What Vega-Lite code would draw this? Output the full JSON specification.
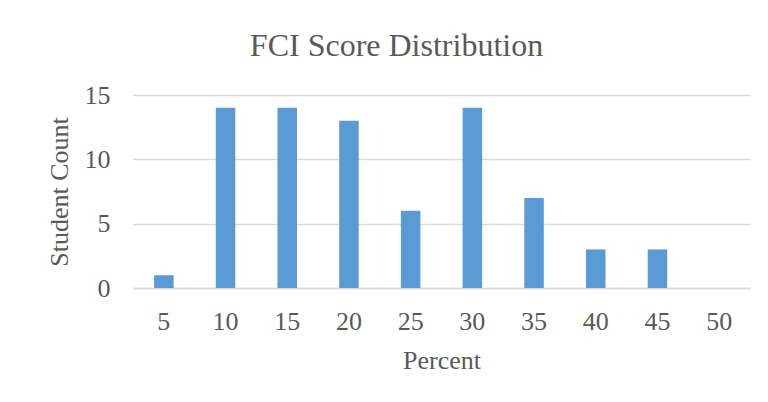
{
  "$schema": "https://vega.github.io/schema/vega-lite/v6.json",
  "autosize": "none",
  "width": 617,
  "height": 193,
  "padding": {"left": 133, "top": 95, "right": 18, "bottom": 114},
  "background": "white",
  "title": {
    "text": "FCI Score Distribution",
    "font": "Liberation Serif",
    "fontSize": 32,
    "fontWeight": "normal",
    "color": "#595959",
    "anchor": "middle",
    "frame": "group",
    "baseline": "alphabetic",
    "dx": -45,
    "offset": -6
  },
  "data": {
    "values": [
      {"percent": 5, "count": 1},
      {"percent": 10, "count": 14},
      {"percent": 15, "count": 14},
      {"percent": 20, "count": 13},
      {"percent": 25, "count": 6},
      {"percent": 30, "count": 14},
      {"percent": 35, "count": 7},
      {"percent": 40, "count": 3},
      {"percent": 45, "count": 3},
      {"percent": 50, "count": 0}
    ]
  },
  "mark": {"type": "bar", "color": "#5B9BD5"},
  "encoding": {
    "x": {
      "field": "percent",
      "type": "ordinal",
      "title": "Percent",
      "scale": {"paddingInner": 0.684, "paddingOuter": 0.342},
      "axis": {
        "labelAngle": 0,
        "ticks": false,
        "domain": true,
        "domainColor": "#D9D9D9",
        "domainWidth": 1.5,
        "labelPadding": 20,
        "titlePadding": 13
      }
    },
    "y": {
      "field": "count",
      "type": "quantitative",
      "title": "Student Count",
      "scale": {"domain": [0, 15]},
      "axis": {
        "values": [0, 5, 10, 15],
        "ticks": false,
        "domain": false,
        "grid": true,
        "gridColor": "#D9D9D9",
        "gridWidth": 1.5,
        "labelPadding": 23,
        "titlePadding": 12
      }
    }
  },
  "config": {
    "view": {"stroke": null},
    "axis": {
      "labelFont": "Liberation Serif",
      "labelFontSize": 26,
      "labelColor": "#595959",
      "titleFont": "Liberation Serif",
      "titleFontSize": 26,
      "titleFontWeight": "normal",
      "titleColor": "#595959"
    }
  }
}
